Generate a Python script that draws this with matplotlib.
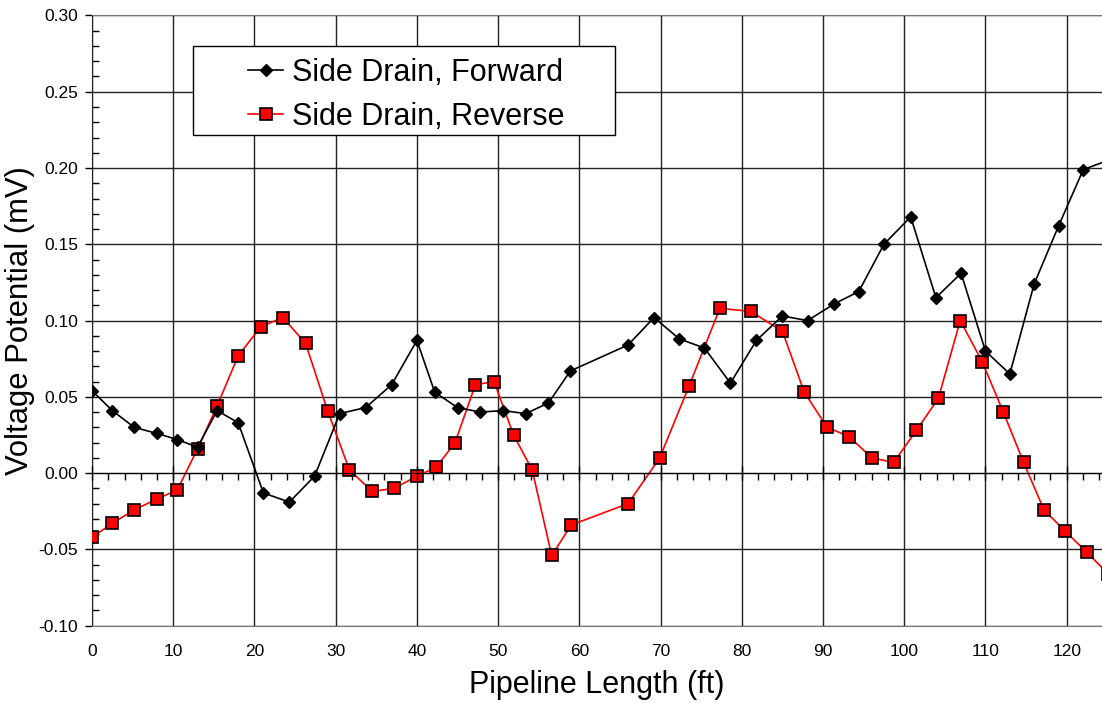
import numpy as np
import matplotlib
matplotlib.use("Agg")
import matplotlib.pyplot as plt
from matplotlib.ticker import MultipleLocator, FormatStrFormatter
from matplotlib.patches import Rectangle

plt.rcParams['font.family'] = ['Liberation Sans', 'DejaVu Sans']

# Side Drain, Forward
fwd_x = [0.0, 2.5, 5.2, 8.0, 10.5, 13.0, 15.4, 18.0, 21.1, 24.3, 27.4, 30.5, 33.7, 36.9,
         40.0, 42.2, 45.0, 47.8, 50.6, 53.4, 56.2, 58.9, 66.0, 69.2, 72.3, 75.4, 78.6,
         81.8, 85.0, 88.1, 91.4, 94.4, 97.5, 100.8, 103.9, 107.0, 110.0, 113.0, 116.0,
         119.0, 122.05, 125.1]
fwd_y = [0.054, 0.041, 0.030, 0.026, 0.022, 0.017, 0.041, 0.033, -0.013, -0.019, -0.002,
         0.039, 0.043, 0.058, 0.087, 0.053, 0.043, 0.040, 0.041, 0.039, 0.046, 0.067,
         0.084, 0.102, 0.088, 0.082, 0.059, 0.087, 0.103, 0.100, 0.111, 0.119, 0.150,
         0.168, 0.115, 0.131, 0.080, 0.065, 0.124, 0.162, 0.199, 0.205]

# Side Drain, Reverse
rev_x = [0.0, 2.5, 5.2, 8.0, 10.5, 13.0, 15.4, 18.0, 20.8, 23.5, 26.3, 29.0, 31.7, 34.5,
         37.2, 40.0, 42.4, 44.7, 47.2, 49.5, 51.9, 54.2, 56.6, 59.0, 66.0, 69.9, 73.5,
         77.3, 81.1, 85.0, 87.7, 90.5, 93.2, 96.0, 98.7, 101.5, 104.2, 106.9, 109.6,
         112.2, 114.7, 117.2, 119.8, 122.5, 125.1]
rev_y = [-0.042, -0.033, -0.024, -0.017, -0.011, 0.016, 0.044, 0.077, 0.096, 0.102, 0.085,
         0.041, 0.002, -0.012, -0.010, -0.002, 0.004, 0.020, 0.058, 0.060, 0.025, 0.002,
         -0.054, -0.034, -0.020, 0.010, 0.057, 0.108, 0.106, 0.093, 0.053, 0.030, 0.024,
         0.010, 0.007, 0.028, 0.049, 0.100, 0.073, 0.040, 0.007, -0.024, -0.038, -0.052,
         -0.066]

fig = plt.figure(figsize=(11.02, 7.03), dpi=100)
ax = fig.add_axes([0.0835, 0.110, 0.9165, 0.868])

ax.plot(fwd_x, fwd_y, color='black', lw=1.2, marker='D', ms=6.5,
        mfc='black', mec='black', label='Side Drain, Forward', zorder=4)
ax.plot(rev_x, rev_y, color='red', lw=1.2, marker='s', ms=8,
        mfc='red', mec='black', mew=1.2, label='Side Drain, Reverse', zorder=3)

ax.set_xlim(0, 124.35)
ax.set_ylim(-0.10, 0.30)
ax.xaxis.set_major_locator(MultipleLocator(10))
ax.yaxis.set_major_locator(MultipleLocator(0.05))
ax.yaxis.set_minor_locator(MultipleLocator(0.01))
ax.yaxis.set_major_formatter(FormatStrFormatter('%.2f'))
ax.grid(True, which='major', color='#222222', lw=1.0)
ax.set_axisbelow(True)

ax.tick_params(axis='y', which='major', direction='out', length=5, width=1, labelsize=12.5, pad=5)
ax.tick_params(axis='y', which='minor', direction='in', length=5, width=1)
ax.tick_params(axis='x', which='major', length=0, labelsize=12.5, pad=13.5)
ax.spines['right'].set_visible(False)
ax.spines['top'].set_color('#777777')
ax.spines['bottom'].set_color('#777777')
ax.spines['left'].set_color('#222222')

# zero line with tick marks
ax2 = ax.twiny()
ax2.set_xlim(ax.get_xlim())
ax2.spines['bottom'].set_position(('data', 0))
ax2.spines['bottom'].set_color('black')
for s in ['top', 'left', 'right']:
    ax2.spines[s].set_visible(False)
ax2.xaxis.set_ticks_position('bottom')
ax2.xaxis.set_major_locator(MultipleLocator(10))
ax2.xaxis.set_minor_locator(MultipleLocator(2))
ax2.tick_params(axis='x', which='major', direction='inout', length=10, width=1, labelbottom=False)
ax2.tick_params(axis='x', which='minor', direction='out', length=5, width=1)
ax2.patch.set_visible(False)

ax.set_xlabel('Pipeline Length (ft)', fontsize=22, va='top')
ax.xaxis.set_label_coords(0.5, -0.072)
ax.set_ylabel('Voltage Potential (mV)', fontsize=22.3)
ax.yaxis.set_label_coords(-0.0564, 0.5)

# legend: framed box with wide side margins
ax2.add_patch(Rectangle((0.1, 0.804), 0.418, 0.1463, transform=ax.transAxes,
                        facecolor='white', edgecolor='black', lw=1.0, zorder=9))
leg = ax2.legend(handles=ax.get_lines(), loc='upper left', bbox_to_anchor=(0.1545, 0.931),
                 bbox_transform=ax.transAxes, borderaxespad=0, borderpad=0,
                 fontsize=22, frameon=False, handlelength=1.15, handletextpad=0.28,
                 labelspacing=0.46)
leg.set_zorder(10)

fig.savefig('out.png', dpi=100)
